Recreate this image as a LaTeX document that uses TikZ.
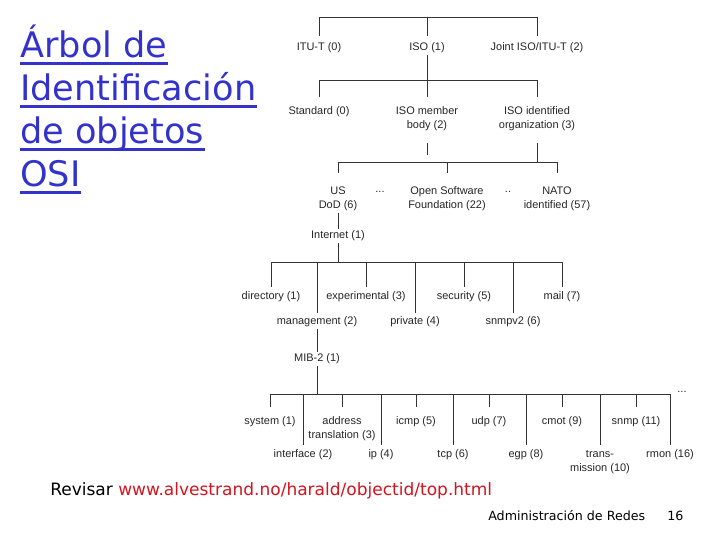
\documentclass[tikz,border=0pt]{standalone}
\usepackage{fontspec}
\setmainfont{Liberation Sans}
\newfontfamily\comicfont{DejaVu Sans}
\definecolor{titleblue}{RGB}{51,51,204}
\definecolor{urlred}{RGB}{210,20,30}
\tikzset{
  oid/.style={font=\fontsize{7.8}{9.9}\selectfont,inner sep=1pt,align=center,text=black!85},
  edge/.style={line width=0.6pt,draw=black!80},
  ttl/.style={anchor=base west,inner sep=0pt,font=\comicfont\fontsize{25}{30}\selectfont,text=titleblue},
  uln/.style={line width=1.8pt,draw=titleblue},
}
\begin{document}
\begin{tikzpicture}[x=0.025cm,y=-0.025cm]
\useasboundingbox (0,0) rectangle (720,540);
% Title
\node[ttl] (t1) at (20,57) {Árbol de};
\node[ttl] (t2) at (20,100) {Identificación};
\node[ttl] (t3) at (20,143) {de objetos};
\node[ttl] (t4) at (20,186) {OSI};
\foreach \t in {t1,t2,t3,t4}
  \draw[uln] ([yshift=-4.5pt]\t.base west) -- ([yshift=-4.5pt]\t.base east);
% bus and drop levels
\coordinate (b1) at (0,17);  \coordinate (e1) at (0,36);
\coordinate (b2) at (0,80);  \coordinate (e2) at (0,97);
\coordinate (s3) at (0,143); \coordinate (b3) at (0,162); \coordinate (e3) at (0,173);
\coordinate (b4) at (0,262); \coordinate (e4) at (0,287); \coordinate (e4l) at (0,313);
\coordinate (b5) at (0,394); \coordinate (e5) at (0,407); \coordinate (e5l) at (0,445);
% Level 1
\node[oid] (itut)  at (319,48) {ITU-T (0)};
\node[oid] (iso)   at (427,48) {ISO (1)};
\node[oid] (joint) at (537,48) {Joint ISO/ITU-T (2)};
\draw[edge] (itut.north |- b1) -- (joint.north |- b1);
\foreach \c in {itut,iso,joint} \draw[edge] (\c.north |- e1) -- (\c.north |- b1);
% Level 2
\node[oid] (std)    at (319,112) {Standard (0)};
\node[oid] (member) at (427,119) {ISO member\\body (2)};
\node[oid] (idorg)  at (537,119) {ISO identified\\organization (3)};
\draw[edge] (iso.south) -- (iso.south |- b2);
\draw[edge] (std.north |- b2) -- (idorg.north |- b2);
\foreach \c in {std,member,idorg} \draw[edge] (\c.north |- e2) -- (\c.north |- b2);
\coordinate (stub) at (427,155);
\draw[edge] (member.south |- s3) -- (stub);
% Level 3
\node[oid] (us)   at (338,199) {US\\DoD (6)};
\node[oid] (dt1)  at (380,192) {...};
\node[oid] (osf)  at (447,199) {Open Software\\Foundation (22)};
\node[oid] (dt2)  at (508,192) {..};
\node[oid] (nato) at (557,199) {NATO\\identified (57)};
\draw[edge] (idorg.south |- s3) -- (idorg.south |- b3);
\draw[edge] (us.north |- b3) -- (nato.north |- b3);
\foreach \c in {us,osf,nato} \draw[edge] (\c.north |- e3) -- (\c.north |- b3);
\node[oid] (inet) at (338,236) {Internet (1)};
\draw[edge] (us) -- (inet);
% Level 4
\node[oid] (dir)   at (271,297) {directory (1)};
\node[oid] (exp)   at (366,297) {experimental (3)};
\node[oid] (sec)   at (464,297) {security (5)};
\node[oid] (mail)  at (562,297) {mail (7)};
\node[oid] (mgmt)  at (317,322) {management (2)};
\node[oid] (priv)  at (415,322) {private (4)};
\node[oid] (snmp2) at (513,322) {snmpv2 (6)};
\draw[edge] (inet.south) -- (inet.south |- b4);
\draw[edge] (dir.north |- b4) -- (mail.north |- b4);
\foreach \c in {dir,exp,sec,mail} \draw[edge] (\c.north |- e4) -- (\c.north |- b4);
\foreach \c in {mgmt,priv,snmp2} \draw[edge] (\c.north |- e4l) -- (\c.north |- b4);
\node[oid] (mib) at (317,359) {MIB-2 (1)};
\draw[edge] (mgmt) -- (mib);
% Level 5
\node[oid] (sys)   at (270,422) {system (1)};
\node[oid] (addr)  at (342,429) {address\\translation (3)};
\node[oid] (icmp)  at (416,422) {icmp (5)};
\node[oid] (udp)   at (489,422) {udp (7)};
\node[oid] (cmot)  at (562,422) {cmot (9)};
\node[oid] (snmp)  at (636,422) {snmp (11)};
\node[oid] (iface) at (303,455) {interface (2)};
\node[oid] (ip)    at (381,455) {ip (4)};
\node[oid] (tcp)   at (453,455) {tcp (6)};
\node[oid] (egp)   at (526,455) {egp (8)};
\node[oid] (trans) at (600,462) {trans-\\mission (10)};
\node[oid] (rmon)  at (670,455) {rmon (16)};
\node[oid] (dt3)   at (682,392) {...};
\draw[edge] (mib.south) -- (mib.south |- b5);
\draw[edge] (sys.north |- b5) -- (rmon.north |- b5);
\foreach \c in {sys,addr,icmp,udp,cmot,snmp} \draw[edge] (\c.north |- e5) -- (\c.north |- b5);
\foreach \c in {iface,ip,tcp,egp,trans,rmon} \draw[edge] (\c.north |- e5l) -- (\c.north |- b5);
% Footer
\node[anchor=base west,inner sep=0pt,font=\comicfont\fontsize{12.1}{14}\selectfont] (rev) at (50,495)
  {Revisar \textcolor{urlred}{www.alvestrand.no/harald/objectid/top.html}};
\node[anchor=base west,inner sep=0pt,font=\comicfont\fontsize{9}{11}\selectfont] (adm) at (488,520) {Administración de Redes};
\node[anchor=base west,inner sep=0pt,font=\comicfont\fontsize{9}{11}\selectfont] (pg) at (667,520) {16};
\end{tikzpicture}
\end{document}
